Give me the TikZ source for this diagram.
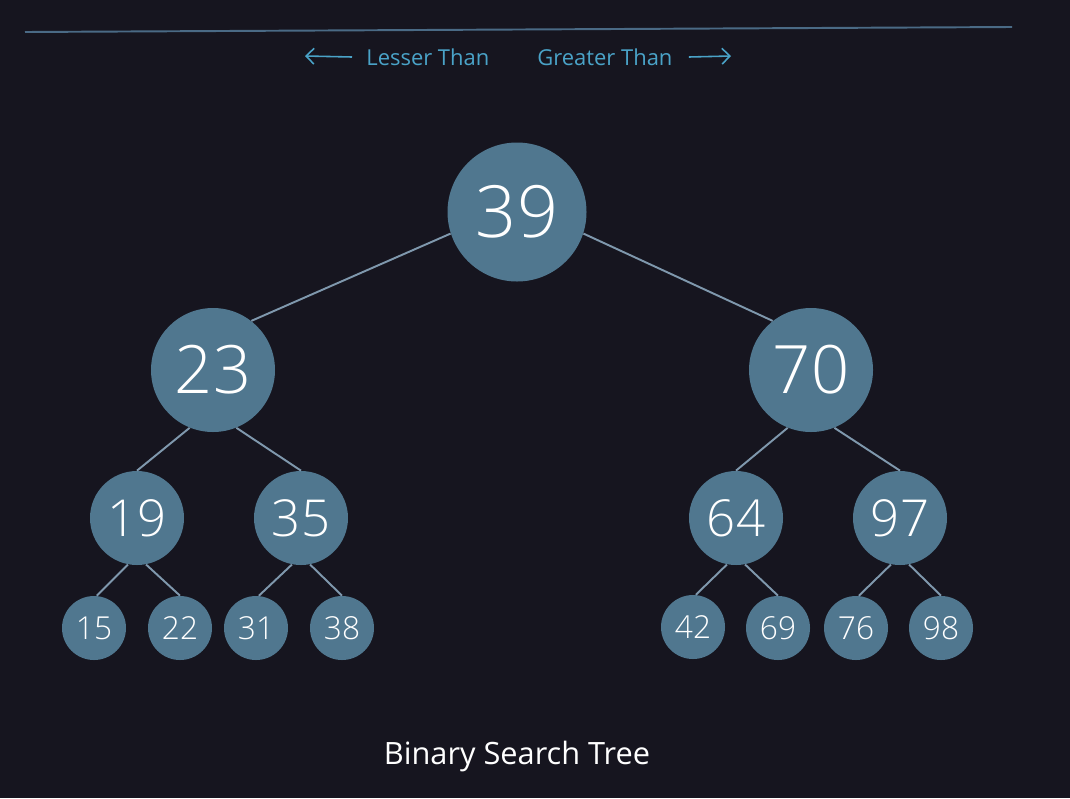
\documentclass[tikz,border=0pt]{standalone}
\usepackage{fontspec}
\setmainfont{Open Sans}
\newfontfamily\numFont{Open Sans}[UprightFont=* Light]
\usetikzlibrary{arrows.meta}

\tikzset{
    treeNode/.style={circle, fill=nodeColour, text=white, inner sep=0pt},
    rootNode/.style={treeNode, minimum size=139\pxUnit, font=\numFont\fontsize{41}{41}\selectfont},
    levelOne/.style={treeNode, minimum size=124\pxUnit, font=\numFont\fontsize{38}{38}\selectfont},
    levelTwo/.style={treeNode, minimum size=94\pxUnit, font=\numFont\fontsize{29}{29}\selectfont},
    leafNode/.style={treeNode, minimum size=64\pxUnit, font=\numFont\fontsize{18}{18}\selectfont},
    edgeLine/.style={draw=edgeColour, line width=1.1pt},
    hintText/.style={text=hintColour, font=\fontsize{12.5}{12.5}\selectfont, inner sep=0pt}
}
\def\pxUnit{*0.02cm}

\begin{document}
\begin{tikzpicture}[x=0.02cm, y=-0.02cm]
    \definecolor{bgColour}{HTML}{16151F}
    \definecolor{nodeColour}{HTML}{50778F}
    \definecolor{edgeColour}{HTML}{7F98AD}
    \definecolor{hintColour}{HTML}{4AA3C8}
    \definecolor{ruleColour}{HTML}{4A6A85}

    % Background
    \fill[bgColour] (0,0) rectangle (1070,798);
    \useasboundingbox (0,0) rectangle (1070,798);

    % Top rule
    \draw[ruleColour, line width=1.1pt] (25,32) -- (1012,27);

    % Direction hints
    \node[hintText, anchor=west] (lesser) at (366,57) {Lesser Than};
    \node[hintText, anchor=west] (greater) at (537,57) {Greater Than};
    \coordinate (lesserEnd) at (305,56);
    \coordinate (greaterEnd) at (731,56);
    \draw[hintColour, line width=0.9pt, -{Straight Barb[length=4.5pt, width=9pt]}] ([xshift=-14\pxUnit]lesser.west) -- (lesserEnd);
    \draw[hintColour, line width=0.9pt, -{Straight Barb[length=4.5pt, width=9pt]}] ([xshift=16\pxUnit]greater.east) -- (greaterEnd);

    % Tree nodes
    \node[rootNode] (n39) at (517,212) {39};
    \node[levelOne] (n23) at (213,370) {23};
    \node[levelOne] (n70) at (811,370) {70};
    \node[levelTwo] (n19) at (137,518) {19};
    \node[levelTwo] (n35) at (301,518) {35};
    \node[levelTwo] (n64) at (736,518) {64};
    \node[levelTwo] (n97) at (900,518) {97};
    \node[leafNode] (n15) at (94,628) {15};
    \node[leafNode] (n22) at (180,628) {22};
    \node[leafNode] (n31) at (256,628) {31};
    \node[leafNode] (n38) at (342,628) {38};
    \node[leafNode] (n42) at (693,627) {42};
    \node[leafNode] (n69) at (778,628) {69};
    \node[leafNode] (n76) at (856,628) {76};
    \node[leafNode] (n98) at (941,628) {98};

    % Tree edges
    \draw[edgeLine] (n39.198) -- (n23.52);
    \draw[edgeLine] (n39.-18) -- (n70.128);
    \foreach \a/\b/\c in {23/19/35, 70/64/97}{
        \draw[edgeLine] (n\a.-112) -- (n\b.north);
        \draw[edgeLine] (n\a.-68) -- (n\c.north);
    }
    \foreach \a/\b/\c in {19/15/22, 35/31/38, 64/42/69, 97/76/98}{
        \draw[edgeLine] (n\a.-101) -- (n\b.85);
        \draw[edgeLine] (n\a.-79) -- (n\c.north);
    }

    % Caption
    \node[text=white, font=\fontsize{17.5}{17.5}\selectfont] (caption) at (517,756) {Binary Search Tree};

\end{tikzpicture}
\end{document}
